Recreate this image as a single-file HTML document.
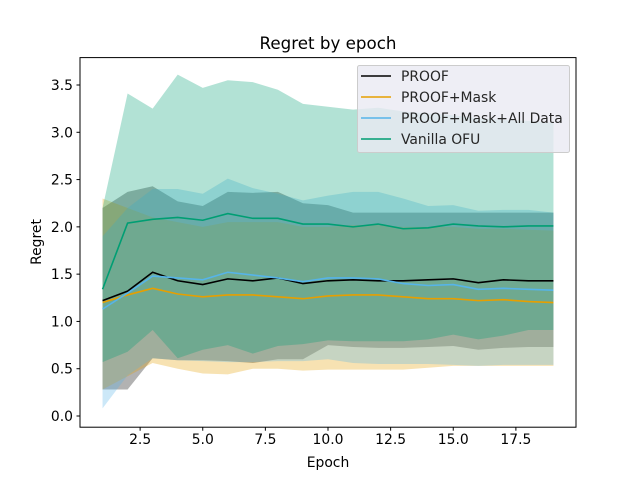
<!DOCTYPE html>
<html><head><meta charset="utf-8"><style>
body{margin:0;background:#fff}
svg{display:block;font-family:"DejaVu Sans","Liberation Sans",sans-serif}
</style></head><body>
<svg id="chart" width="640" height="480" viewBox="0 0 640 480">
<rect width="640" height="480" fill="#fff"/>
<g id="bands"></g>
<g id="lines"></g>
<rect x="80" y="57.6" width="496" height="369.6" fill="none" stroke="#000" stroke-width="1"/>
<g id="xticks"></g>
<g id="yticks"></g>
<text x="328" y="49" text-anchor="middle" font-size="16.7">Regret by epoch</text>
<text x="328" y="467" text-anchor="middle" font-size="13.9">Epoch</text>
<text transform="translate(41,242) rotate(-90)" text-anchor="middle" font-size="13.9">Regret</text>
<g id="legend"></g>
</svg>
<script>
const epochs=[1,2,3,4,5,6,7,8,9,10,11,12,13,14,15,16,17,18,19];
const seriesNames=["PROOF","PROOF+Mask","PROOF+Mask+All Data","Vanilla OFU"];
const proofMean=[1.22,1.32,1.52,1.43,1.39,1.45,1.43,1.46,1.40,1.43,1.44,1.43,1.43,1.44,1.45,1.41,1.44,1.43,1.43];
const proofLow=[0.28,0.28,0.61,0.59,0.59,0.58,0.56,0.60,0.60,0.75,0.73,0.72,0.72,0.73,0.74,0.70,0.72,0.73,0.73];
const proofHigh=[2.2,2.37,2.43,2.27,2.22,2.37,2.36,2.37,2.25,2.23,2.15,2.15,2.15,2.15,2.15,2.15,2.15,2.15,2.15];
const maskMean=[1.20,1.28,1.35,1.29,1.26,1.28,1.28,1.26,1.24,1.27,1.28,1.28,1.26,1.24,1.24,1.22,1.23,1.21,1.20];
const maskLow=[0.28,0.42,0.56,0.50,0.45,0.44,0.50,0.50,0.48,0.49,0.49,0.49,0.49,0.51,0.53,0.53,0.53,0.53,0.53];
const maskHigh=[2.3,2.2,2.1,2.05,2.0,2.05,2.05,2.05,2.0,2.0,2.02,2.02,2.0,2.0,2.0,1.98,1.98,1.97,1.96];
const allMean=[1.13,1.30,1.48,1.46,1.44,1.52,1.49,1.46,1.42,1.46,1.46,1.45,1.40,1.38,1.39,1.34,1.35,1.34,1.33];
const allLow=[0.08,0.43,0.61,0.59,0.58,0.57,0.57,0.58,0.58,0.60,0.56,0.55,0.55,0.55,0.54,0.53,0.54,0.54,0.54];
const allHigh=[1.9,2.2,2.4,2.4,2.35,2.51,2.41,2.35,2.28,2.33,2.37,2.37,2.30,2.22,2.23,2.17,2.18,2.18,2.15];
const ofuMean=[1.34,2.04,2.08,2.10,2.07,2.14,2.09,2.09,2.03,2.03,2.00,2.03,1.98,1.99,2.03,2.01,2.00,2.01,2.01];
const ofuLow=[0.57,0.68,0.91,0.61,0.70,0.75,0.66,0.74,0.76,0.80,0.79,0.79,0.79,0.81,0.86,0.81,0.85,0.91,0.91];
const ofuHigh=[2.2,3.41,3.25,3.61,3.47,3.55,3.53,3.45,3.30,3.27,3.24,3.26,3.22,3.2,3.18,3.15,3.13,3.12,3.10];
const xTicks=[2.5,5.0,7.5,10.0,12.5,15.0,17.5];
const xTickLabels=["2.5","5.0","7.5","10.0","12.5","15.0","17.5"];
const yTicks=[0,0.5,1,1.5,2,2.5,3,3.5];
const yTickLabels=["0.0","0.5","1.0","1.5","2.0","2.5","3.0","3.5"];

const NS="http://www.w3.org/2000/svg";
const x=v=>80+(v-0.1)*(496/19.8);
const y=v=>416-v*94.57;
function mk(tag,attrs,parent){const e=document.createElementNS(NS,tag);for(const k in attrs)e.setAttribute(k,attrs[k]);parent.appendChild(e);return e;}
const colors=["#000000","#E69F00","#56B4E9","#009E73"];
const means=[proofMean,maskMean,allMean,ofuMean];
const lows=[proofLow,maskLow,allLow,ofuLow];
const highs=[proofHigh,maskHigh,allHigh,ofuHigh];
const bands=document.getElementById('bands'),lines=document.getElementById('lines');
for(let s=0;s<4;s++){
  let d=epochs.map((e,i)=>(i?'L':'M')+x(e)+','+y(highs[s][i])).join('');
  for(let i=epochs.length-1;i>=0;i--)d+='L'+x(epochs[i])+','+y(lows[s][i]);
  const p=mk('path',{d:d+'Z',fill:colors[s],'fill-opacity':0.3},bands);
  
  
}
for(let s=0;s<4;s++){
  const l=mk('path',{d:epochs.map((e,i)=>(i?'L':'M')+x(e)+','+y(means[s][i])).join(''),fill:'none',stroke:colors[s],'stroke-width':1.6},lines);
  
  
}
const xt=document.getElementById('xticks');
xTicks.forEach((t,i)=>{
  mk('line',{x1:x(t),x2:x(t),y1:427.2,y2:430.7,stroke:'#000'},xt);
  const tx=mk('text',{x:x(t),y:444,'text-anchor':'middle','font-size':13.9},xt);
  tx.textContent=xTickLabels[i];
  
  
});
const yt=document.getElementById('yticks');
yTicks.forEach((t,i)=>{
  mk('line',{x1:76.5,x2:80,y1:y(t),y2:y(t),stroke:'#000'},yt);
  const tx=mk('text',{x:73,y:y(t)+5,'text-anchor':'end','font-size':13.9},yt);
  tx.textContent=yTickLabels[i];
  
  
});
const lg=document.getElementById('legend');
mk('rect',{x:357.5,y:65.5,width:212,height:87,rx:2,fill:'#eaeaf2','fill-opacity':0.8,stroke:'#cccccc'},lg);
seriesNames.forEach((n,i)=>{
  const yy=76+i*21;
  mk('line',{x1:361,x2:391,y1:yy,y2:yy,stroke:colors[i],'stroke-width':1.6},lg);
  const tx=mk('text',{x:401,y:yy+5,'font-size':13.9,fill:'#262626'},lg);
  tx.textContent=n;
  
  
});
</script>
</body></html>
